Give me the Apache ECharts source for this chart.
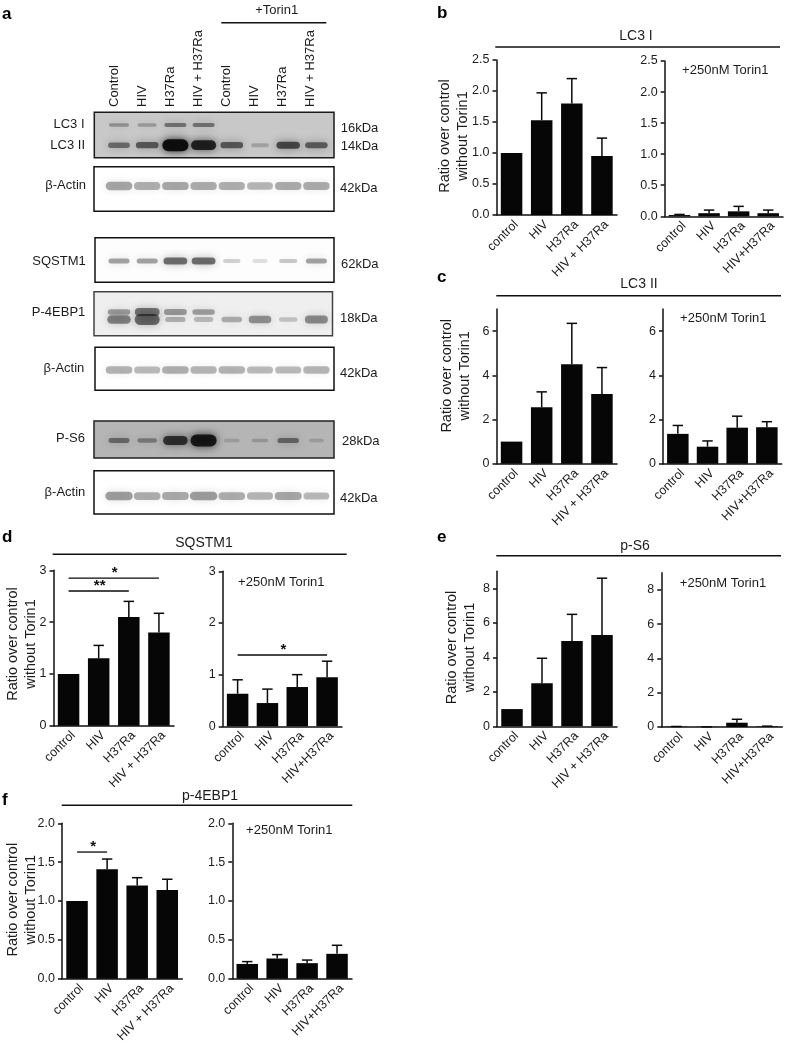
<!DOCTYPE html>
<html>
<head>
<meta charset="utf-8">
<style>html,body{margin:0;padding:0;background:#fff}#c{width:787px;height:1045px}</style>
<script src="https://cdn.jsdelivr.net/npm/echarts@6/dist/echarts.min.js"></script>
</head>
<body>
<div id="c"></div>
<script>
// ---- bar chart data ----
const catsPlain = ['control', 'HIV', 'H37Ra', 'HIV + H37Ra'];
const catsTorin = ['control', 'HIV', 'H37Ra', 'HIV+H37Ra'];
const laneLabels = ['Control', 'HIV', 'H37Ra', 'HIV + H37Ra', 'Control', 'HIV', 'H37Ra', 'HIV + H37Ra'];

const lc3iMean = [1.0, 1.53, 1.8, 0.95];
const lc3iTop = [null, 1.97, 2.2, 1.24];
const lc3iTorinMean = [0.02, 0.05, 0.08, 0.05];
const lc3iTorinTop = [0.03, 0.1, 0.16, 0.1];

const lc3iiMean = [1.0, 2.55, 4.5, 3.15];
const lc3iiTop = [null, 3.25, 6.35, 4.35];
const lc3iiTorinMean = [1.35, 0.77, 1.63, 1.65];
const lc3iiTorinTop = [1.73, 1.03, 2.15, 1.9];

const sqstmMean = [1.0, 1.3, 2.1, 1.8];
const sqstmTop = [null, 1.55, 2.4, 2.17];
const sqstmTorinMean = [0.63, 0.45, 0.76, 0.95];
const sqstmTorinTop = [0.9, 0.72, 1.0, 1.26];

const ps6Mean = [1.0, 2.5, 4.95, 5.3];
const ps6Top = [null, 3.95, 6.5, 8.6];
const ps6TorinMean = [0.02, 0.01, 0.25, 0.03];
const ps6TorinTop = [0.03, 0.01, 0.45, 0.05];

const ebpMean = [1.0, 1.41, 1.2, 1.14];
const ebpTop = [null, 1.54, 1.3, 1.28];
const ebpTorinMean = [0.19, 0.26, 0.2, 0.32];
const ebpTorinTop = [0.22, 0.31, 0.24, 0.43];

const ticks25 = [0, 0.5, 1, 1.5, 2, 2.5];
const ticks7 = [0, 2, 4, 6];
const ticks3 = [0, 1, 2, 3];
const ticks9 = [0, 2, 4, 6, 8];
const ticks2 = [0, 0.5, 1, 1.5, 2];

// significance: [from category, to category, height, stars]
const sqstmSig = [[0, 3, 2.85, '*'], [0, 2, 2.6, '**']];
const sqstmTorinSig = [[0, 3, 1.38, '*']];
const ebpSig = [[0, 1, 1.63, '*']];

// ---- blot band strengths per lane (0 none, 1 strongest) ----
const bandLC3I = [0.25, 0.18, 0.45, 0.45, 0, 0, 0, 0];
const bandLC3II = [0.42, 0.52, 1, 0.85, 0.52, 0.1, 0.62, 0.5];
const bandActinA = [0.62, 0.55, 0.6, 0.58, 0.55, 0.5, 0.58, 0.58];
const bandSQSTM = [0.42, 0.42, 0.72, 0.72, 0.15, 0.05, 0.2, 0.42];
const bandEBPUpper = [0.5, 0.8, 0.55, 0.5, 0, 0, 0, 0];
const bandEBPLower = [0.68, 0.85, 0.35, 0.28, 0.38, 0.58, 0.22, 0.62];
const bandActinB = [0.5, 0.45, 0.52, 0.48, 0.5, 0.45, 0.45, 0.48];
const bandPS6 = [0.42, 0.3, 0.8, 1, 0.06, 0.1, 0.45, 0.05];
const bandActinC = [0.62, 0.5, 0.52, 0.62, 0.5, 0.45, 0.55, 0.42];

// ---- layout ----
const FONT = '"Liberation Sans", Arial, sans-serif';
const INK = '#1c1c1c';
const panels = [
  {l:496.5,t:60,r:617,b:215,max:2.5,ticks:ticks25,cats:catsPlain,mean:lc3iMean,top:lc3iTop,dec:1},
  {l:664.7,t:61,r:783,b:216.3,max:2.5,ticks:ticks25,cats:catsTorin,mean:lc3iTorinMean,top:lc3iTorinTop,dec:1},
  {l:496.5,t:309,r:617,b:463.7,max:7,ticks:ticks7,cats:catsPlain,mean:lc3iiMean,top:lc3iiTop,dec:0},
  {l:663,t:309,r:781.7,b:463.7,max:7,ticks:ticks7,cats:catsTorin,mean:lc3iiTorinMean,top:lc3iiTorinTop,dec:0},
  {l:53.5,t:570.3,r:174,b:725.7,max:3,ticks:ticks3,cats:catsPlain,mean:sqstmMean,top:sqstmTop,dec:0,sig:sqstmSig},
  {l:222.7,t:571.3,r:342,b:726.3,max:3,ticks:ticks3,cats:catsTorin,mean:sqstmTorinMean,top:sqstmTorinTop,dec:0,sig:sqstmTorinSig},
  {l:497,t:571.3,r:617,b:726.3,max:9,ticks:ticks9,cats:catsPlain,mean:ps6Mean,top:ps6Top,dec:0},
  {l:661.3,t:572.7,r:782.3,b:727,max:9,ticks:ticks9,cats:catsTorin,mean:ps6TorinMean,top:ps6TorinTop,dec:0},
  {l:62,t:823.3,r:182.3,b:978.7,max:2,ticks:ticks2,cats:catsPlain,mean:ebpMean,top:ebpTop,dec:1,sig:ebpSig},
  {l:232.3,t:823.3,r:352,b:978.7,max:2,ticks:ticks2,cats:catsTorin,mean:ebpTorinMean,top:ebpTorinTop,dec:1}
];
const blots = [
  {l:94.3,t:112.3,r:334,b:157.7,bg:'#c8c8c8',border:'#1a1a1a',rows:[
    {d:bandLC3I,y:125,w0:14,w1:26,h0:3.5,h1:6,a:0.85},
    {d:bandLC3II,y:145.2,w0:14,w1:26,h0:4,h1:12,a:0.95}]},
  {l:94,t:166.7,r:334,b:211.3,bg:'#ffffff',border:'#111',rows:[{d:bandActinA,y:186,w0:18,w1:29,h0:6,h1:12,a:0.5}]},
  {l:95,t:237.7,r:334,b:282.3,bg:'#fdfdfd',border:'#111',rows:[{d:bandSQSTM,y:261,w0:12,w1:26,h0:4,h1:10,a:0.72}]},
  {l:94,t:291.7,r:332.5,b:335.7,bg:'#efefef',border:'#444',rows:[
    {d:bandEBPUpper,y:312,w0:14,w1:26,h0:4,h1:10,a:0.6},
    {d:bandEBPLower,y:319.5,w0:12,w1:26,h0:4,h1:14,a:0.62}]},
  {l:95,t:347.3,r:334,b:390.3,bg:'#ffffff',border:'#111',rows:[{d:bandActinB,y:370,w0:18,w1:30,h0:6,h1:12,a:0.52}]},
  {l:94,t:421,r:334,b:458,bg:'#b5b5b5',border:'#222',rows:[{d:bandPS6,y:440.5,w0:12,w1:26,h0:3.5,h1:12,a:0.88}]},
  {l:94,t:470.7,r:334,b:514,bg:'#ffffff',border:'#111',rows:[{d:bandActinC,y:496,w0:18,w1:30,h0:6,h1:13,a:0.55}]}
];
const LANE0 = 119, LANEW = 28.2;

const texts = [
  // panel letters
  ['a',2,14,{b:1}],['b',437,13,{b:1}],['c',437,277,{b:1}],['d',2,537,{b:1}],['e',437,537,{b:1}],['f',2,800,{b:1}],
  // headers
  ['+Torin1',276.7,10.7,{c:1,s:13}],['LC3 I',636,36,{c:1,s:14}],['LC3 II',639,284,{c:1,s:14}],
  ['SQSTM1',204,543.3,{c:1,s:14}],['p-S6',635,545.7,{c:1,s:14}],['p-4EBP1',210,796,{c:1,s:14}],
  // torin notes
  ['+250nM Torin1',725.3,70,{c:1}],['+250nM Torin1',723.3,318.7,{c:1}],['+250nM Torin1',281.3,582,{c:1}],
  ['+250nM Torin1',723,583.3,{c:1}],['+250nM Torin1',289.3,830,{c:1}],
  // blot names
  ['LC3 I',84.5,124,{e:1}],['LC3 II',85,145.7,{e:1}],['β-Actin',86,185,{e:1}],['SQSTM1',85.7,261,{e:1}],
  ['P-4EBP1',85.3,312.7,{e:1}],['β-Actin',84.3,368.3,{e:1}],['P-S6',85,438.7,{e:1}],['β-Actin',85.3,492.7,{e:1}],
  // sizes
  ['16kDa',340.7,128.3,{}],['14kDa',340.7,146.7,{}],['42kDa',340,188.7,{}],['62kDa',341,264,{}],
  ['18kDa',340,318,{}],['42kDa',340,373.3,{}],['28kDa',342,441.7,{}],['42kDa',340,498.3,{}]
];
const rules = [[221.3,326.3,22.7],[495.3,780,47],[496.3,781,295.7],[52.7,346.7,554.3],[496.3,781,555.7],[61.7,352.3,805.3]];
const yTitles = [[454,136],[456.3,375.8],[21.5,644],[461.3,647.5],[21.5,899.7]];

// ---- option ----
const grid = [], xAxis = [], yAxis = [], series = [], graphic = [];

function addGrid(g, x, y) {
  const i = grid.length;
  grid.push(Object.assign({outerBoundsMode:'none',containLabel:false}, g));
  xAxis.push(Object.assign({gridIndex:i}, x));
  yAxis.push(Object.assign({gridIndex:i}, y));
  return i;
}

const errorItem = (params, api) => {
  const p = api.coord([api.value(0), api.value(1)]);
  const base = api.coord([api.value(0), api.value(2)]);
  return {type:'group',children:[
    {type:'line',shape:{x1:p[0],y1:base[1],x2:p[0],y2:p[1]},style:{stroke:'#0a0a0a',lineWidth:1.5}},
    {type:'line',shape:{x1:p[0]-5.2,y1:p[1],x2:p[0]+5.2,y2:p[1]},style:{stroke:'#0a0a0a',lineWidth:1.5}}
  ]};
};

blots.forEach(B => {
  const w = B.r - B.l, h = B.b - B.t;
  const i = addGrid(
    {left:B.l,top:B.t,width:w,height:h,show:true,backgroundColor:B.bg,borderColor:B.border,borderWidth:1.5},
    {type:'value',show:false,min:(B.l-LANE0)/LANEW,max:(B.r-LANE0)/LANEW},
    {type:'value',show:false,min:B.t,max:B.b,inverse:true}
  );
  B.rows.forEach(R => {
    series.push({
      type:'custom',xAxisIndex:i,yAxisIndex:i,clip:true,silent:true,
      data:R.d.map((v,k)=>[k,R.y,v]).filter(d=>d[2]>0),
      renderItem:(params,api)=>{
        const s = api.value(2);
        const c = api.coord([api.value(0),api.value(1)]);
        const bw = R.w0+(R.w1-R.w0)*Math.sqrt(s), bh = R.h0+(R.h1-R.h0)*s*s;
        const col = 'rgba(10,10,10,'+(0.12+0.88*s)*R.a+')';
        return {type:'rect',shape:{x:c[0]-bw/2,y:c[1]-bh/2,width:bw,height:bh,r:bh/2},
          style:{fill:col,shadowColor:col,shadowBlur:9}};
      }
    });
  });
});

// lane labels
const laneGrid = addGrid(
  {left:100.5,top:107,width:224,height:1},
  {type:'category',position:'top',data:laneLabels,axisLine:{show:false},axisTick:{show:false},
   axisLabel:{rotate:90,interval:0,margin:0,fontFamily:FONT,fontSize:13,color:INK,hideOverlap:false}},
  {type:'value',show:false,min:0,max:1}
);
series.push({type:'custom',xAxisIndex:laneGrid,yAxisIndex:laneGrid,data:[],renderItem:()=>null});

// bar panels
panels.forEach(P => {
  const i = addGrid(
    {left:P.l,top:P.t,width:P.r-P.l,height:P.b-P.t},
    {type:'category',data:P.cats,axisLine:{lineStyle:{color:'#111',width:1.5}},axisTick:{show:false},
     axisLabel:{rotate:45,interval:0,margin:3,verticalAlign:'top',fontFamily:FONT,fontSize:12.5,color:INK,hideOverlap:false}},
    {type:'value',min:0,max:P.max,splitLine:{show:false},
     axisLine:{show:true,onZero:false,lineStyle:{color:'#111',width:1.5}},
     axisTick:{show:true,length:4,customValues:P.ticks,lineStyle:{color:'#111',width:1.5}},
     axisLabel:{customValues:P.ticks,margin:7,fontFamily:FONT,fontSize:12.5,color:INK,
       formatter:v=>Number(v).toFixed(P.dec)}}
  );
  series.push({type:'custom',xAxisIndex:i,yAxisIndex:i,silent:true,z:2,
    data:P.top.map((t,k)=>[k,t,P.mean[k]]).filter(d=>d[1]!==null),renderItem:errorItem});
  series.push({type:'bar',xAxisIndex:i,yAxisIndex:i,barWidth:21.5,z:3,silent:true,
    itemStyle:{color:'#060606'},data:P.mean});
  if (P.sig) series.push({type:'custom',xAxisIndex:i,yAxisIndex:i,silent:true,z:4,clip:false,
    encode:{x:0,y:2},data:P.sig.map(s=>({value:s})),
    renderItem:(params,api)=>{
      const s = P.sig[params.dataIndex];
      const a = api.coord([s[0],s[2]]), b = api.coord([s[1],s[2]]);
      return {type:'group',children:[
        {type:'line',shape:{x1:a[0],y1:a[1],x2:b[0],y2:b[1]},style:{stroke:'#0a0a0a',lineWidth:1.3}},
        {type:'text',style:{x:(a[0]+b[0])/2+1,y:a[1]-5,text:s[3],align:'center',verticalAlign:'middle',
          font:'bold 15px '+FONT,fill:'#111'}}
      ]};
    }});
});

texts.forEach(([t,x,y,o])=>{
  graphic.push({type:'text',x,y,silent:true,style:{text:t,fill:o.b?'#000':INK,
    font:(o.b?'bold 17px ':(o.s||13)+'px ')+FONT,
    textAlign:o.c?'center':(o.e?'right':'left'),textVerticalAlign:'middle'}});
});
rules.forEach(([a,b,y])=>{
  graphic.push({type:'line',silent:true,shape:{x1:a,y1:y,x2:b,y2:y},style:{stroke:'#111',lineWidth:1.4}});
});
yTitles.forEach(([x,y])=>{
  graphic.push({type:'text',x,y,rotation:Math.PI/2,silent:true,style:{text:'Ratio over control\nwithout Torin1',
    fill:INK,font:'14.5px '+FONT,lineHeight:18,textAlign:'center',textVerticalAlign:'middle'}});
});

const chart = echarts.init(document.getElementById('c'),null,{renderer:'canvas',width:787,height:1045});
chart.setOption({animation:false,backgroundColor:'#fff',grid,xAxis,yAxis,series,graphic});
</script>
</body>
</html>
